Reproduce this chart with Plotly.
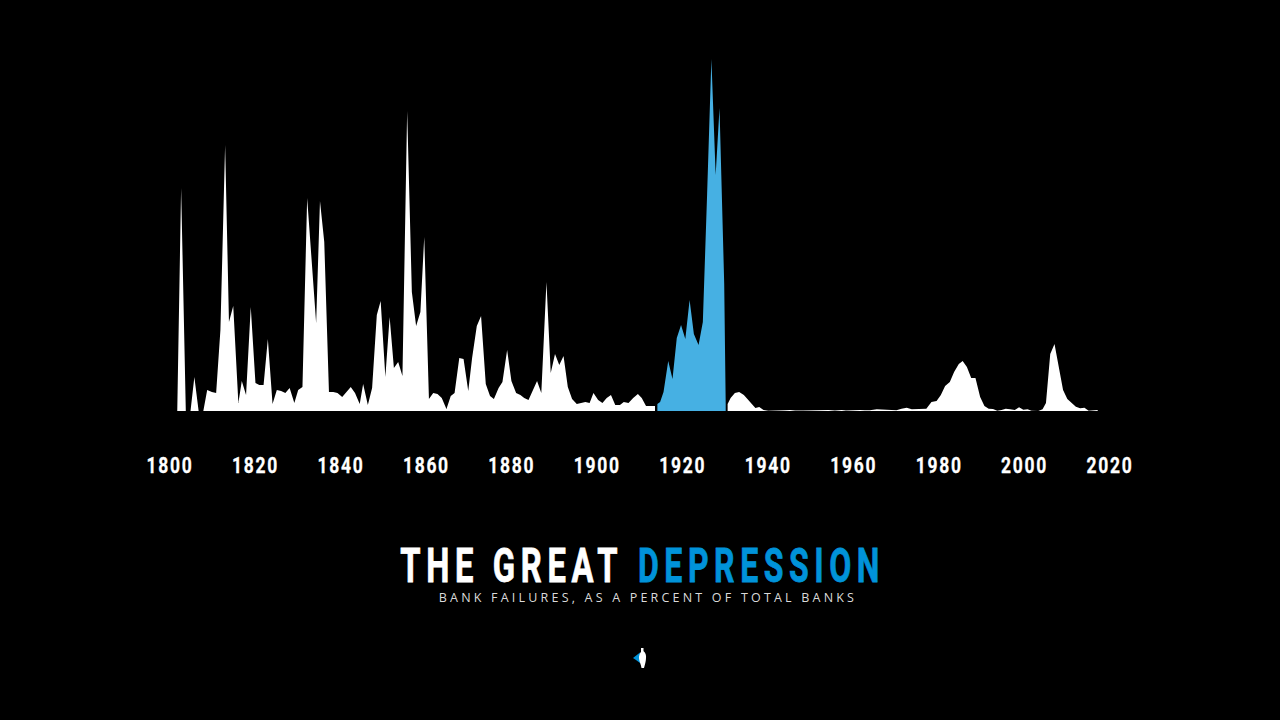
import plotly.graph_objects as go

TITLE_WHITE = "THE GREAT"
TITLE_BLUE = "DEPRESSION"
SUBTITLE = "BANK FAILURES, AS A PERCENT OF TOTAL BANKS"
TICK_YEARS = [1800, 1820, 1840, 1860, 1880, 1900, 1920, 1940, 1960, 1980, 2000, 2020]

# No value axis in the picture: values are relative heights read from it.
years_before = [1801.7, 1802.6, 1803.7, 1804.8, 1805.7, 1806.7, 1807.8, 1808.7, 1809.8, 1810.8, 1811.8, 1812.9,
                1813.8, 1814.8, 1816.0, 1816.8, 1817.8, 1818.9, 1820.0, 1820.9, 1821.9, 1822.9, 1824.0, 1825.0,
                1826.0, 1827.0, 1828.0, 1829.1, 1830.0, 1831.0, 1832.1, 1833.1, 1834.2, 1835.1, 1836.1, 1837.2,
                1838.2, 1839.2, 1840.3, 1841.3, 1842.3, 1843.3, 1844.4, 1845.2, 1846.3, 1847.3, 1848.4, 1849.3,
                1850.4, 1851.4, 1852.4, 1853.4, 1854.4, 1855.5, 1856.6, 1857.6, 1858.6, 1859.5, 1860.6, 1861.6,
                1862.6, 1863.6, 1864.7, 1865.7, 1866.6, 1867.7, 1868.7, 1869.8, 1870.7, 1871.8, 1872.8, 1873.9,
                1874.9, 1875.8, 1876.9, 1877.8, 1878.9, 1879.9, 1881.0, 1882.0, 1882.9, 1883.9, 1884.9, 1885.9,
                1886.9, 1888.1, 1889.1, 1890.1, 1891.1, 1892.1, 1893.1, 1894.1, 1895.2, 1896.2, 1897.2, 1898.2,
                1899.1, 1900.2, 1901.2, 1902.2, 1903.2, 1904.2, 1905.3, 1906.2, 1907.3, 1908.4, 1909.5, 1910.4,
                1911.4, 1913.5]
values_before = [0, 223, 0, 0, 34, 0, 0, 21, 19, 18, 81, 266,
                 89, 105, 8, 30, 16, 104, 28, 26, 26, 72, 7, 21,
                 20, 18, 23, 8, 21, 24, 213, 151, 88, 210, 169, 19,
                 19, 18, 14, 19, 24, 18, 7, 27, 6, 23, 96, 110,
                 34, 94, 43, 49, 35, 300, 119, 85, 99, 174, 12, 18,
                 17, 13, 2, 15, 18, 53, 52, 20, 53, 85, 95, 27,
                 15, 12, 23, 29, 61, 30, 18, 16, 13, 11, 20, 30,
                 18, 129, 38, 57, 46, 55, 24, 12, 7, 8, 9, 8,
                 18, 11, 8, 13, 16, 6, 6, 9, 8, 13, 17, 13,
                 5, 5]

years_depression = [1914.06, 1914.7, 1915.5, 1916.6, 1917.6, 1918.6, 1919.6, 1920.6, 1921.6, 1922.6, 1923.7,
                    1924.7, 1925.7, 1926.7, 1927.7, 1928.6, 1929.7, 1930.05]
values_depression = [7, 9, 19, 50, 32, 73, 86, 72, 111, 77, 66,
                     89, 217, 352, 236, 303, 127, 7]

years_after = [1930.5, 1931.2, 1932.2, 1933.2, 1934.3, 1935.3, 1936.3, 1937.0, 1937.9, 1938.9, 1940.0,
               1942.4, 1943.9, 1945.1, 1946.3, 1948.2, 1950.5, 1952.1, 1954.1, 1955.6, 1957.2, 1958.2,
               1959.9, 1961.5, 1962.6, 1963.8, 1965.4, 1967.3, 1968.9, 1970.0, 1971.2, 1972.4, 1973.6,
               1974.7, 1977.0, 1978.2, 1979.4, 1980.4, 1981.4, 1982.5, 1983.5, 1984.6, 1985.5, 1986.5,
               1987.5, 1988.5, 1989.6, 1990.6, 1991.6, 1992.6, 1993.6, 1994.6, 1995.6, 1996.6, 1997.7,
               1998.7, 1999.7, 2000.7, 2001.6, 2003.2, 2004.2, 2005.0, 2006.0, 2007.0, 2008.0, 2009.0,
               2010.0, 2011.0, 2012.0, 2013.0, 2014.0, 2015.0, 2016.1, 2017.1]
values_after = [7, 13, 18, 19, 16, 11, 6, 3, 4, 1, 0.3,
                1, 0.7, 1, 0.4, 0.4, 0.7, 0.5, 1, 0.4, 1, 0.4,
                1, 1, 0.7, 0.7, 1.7, 1, 0.4, 0.7, 2.3, 3.3, 1.7,
                2, 2.3, 9, 10, 16, 25, 29, 39, 47, 50, 44,
                33, 33, 14, 5, 2.3, 2, 0.3, 1, 2.3, 1.7, 1,
                3.7, 1.3, 1.7, 0.3, 0, 1.7, 8, 57, 67, 43, 21,
                12, 8, 4.3, 2.7, 3.3, 0.3, 1, 1]

WHITE = "#ffffff"
AREA_BLUE = "#46b0e3"
TITLE_BLUE_COLOR = "#0093d9"


def area(x, y, color):
    return go.Scatter(x=x, y=y, mode="lines", fill="tozeroy", fillcolor=color,
                      line=dict(width=0, color=color), hoverinfo="skip", showlegend=False)


fig = go.Figure([
    area(years_before, values_before, WHITE),
    area(years_depression, values_depression, AREA_BLUE),
    area(years_after, values_after, WHITE),
])

W, H = 1280, 720
PX_PER_YEAR = 4.273
x0 = 1800 - 170 / PX_PER_YEAR


def px(x):
    return x / W


def py(y):
    return 1 - y / H


heading = "Roboto, sans-serif"
ICON_BODY = (f"M {px(642.5)} {py(651)} C {px(645)} {py(651)} {px(646.5)} {py(655)} {px(646)} {py(658)} "
             f"C {px(646)} {py(661)} {px(645)} {py(664)} {px(644)} {py(668)} L {px(641.5)} {py(668)} "
             f"C {px(641)} {py(664)} {px(639)} {py(661)} {px(639)} {py(658)} "
             f"C {px(639)} {py(655)} {px(640.5)} {py(651)} {px(642.5)} {py(651)} Z")

fig.update_layout(
    width=W, height=H, margin=dict(l=0, r=0, t=0, b=0),
    paper_bgcolor="#000000", plot_bgcolor="#000000",
    showlegend=False,
    xaxis=dict(range=[x0, x0 + W / PX_PER_YEAR], tickvals=TICK_YEARS, ticktext=[str(t) for t in TICK_YEARS],
               showgrid=False, zeroline=False, showline=False, ticks="",
               ticklabelstandoff=39, tickfont=dict(family=heading, size=22, color=WHITE, weight="bold")),
    yaxis=dict(domain=[(H - 411) / H, 1], range=[0, 411], visible=False),
    annotations=[
        dict(xref="paper", yref="paper", x=px(511.5), y=py(565), showarrow=False, xanchor="center", yanchor="middle",
             text=TITLE_WHITE, font=dict(family=heading, size=49, color=WHITE, weight="bold")),
        dict(xref="paper", yref="paper", x=px(761.5), y=py(565), showarrow=False, xanchor="center", yanchor="middle",
             text=TITLE_BLUE, font=dict(family=heading, size=49, color=TITLE_BLUE_COLOR, weight="bold")),
        dict(xref="paper", yref="paper", x=px(648), y=py(597), showarrow=False, xanchor="center", yanchor="middle",
             text=SUBTITLE, font=dict(family="Open Sans", size=12.5, color="#dddddd")),
    ],
    shapes=[
        dict(type="path", xref="paper", yref="paper", line=dict(width=0), fillcolor=TITLE_BLUE_COLOR,
             path=f"M {px(633)} {py(658)} L {px(640)} {py(652.5)} L {px(640)} {py(663)} L {px(636)} {py(660)} Z"),
        dict(type="path", xref="paper", yref="paper", line=dict(width=0), fillcolor=WHITE, path=ICON_BODY),
        dict(type="rect", xref="paper", yref="paper", line=dict(width=0), fillcolor=WHITE,
             x0=px(641), x1=px(643.5), y0=py(652), y1=py(648)),
    ],
)

SPACING_JS = """
document.body.style.margin = '0';
document.body.style.background = '#000';
function squeeze(t, spacing, length, stroke) {
  t.style.letterSpacing = spacing + 'px';
  t.setAttribute('textLength', length);
  t.setAttribute('lengthAdjust', 'spacingAndGlyphs');
  t.style.stroke = t.style.fill;
  t.style.strokeWidth = stroke + 'px';
}
document.querySelectorAll('.xtick text').forEach(function (t) { squeeze(t, 2.2, 47, 0.3); });
var notes = document.querySelectorAll('.annotation-text');
squeeze(notes[0], 8.5, 223, 0.8);
squeeze(notes[1], 8.5, 247, 0.8);
notes[2].style.letterSpacing = '3.2px';
notes[2].style.opacity = '0.99';
"""

fig.write_html("out.html", post_script=SPACING_JS, config={"displayModeBar": False})
